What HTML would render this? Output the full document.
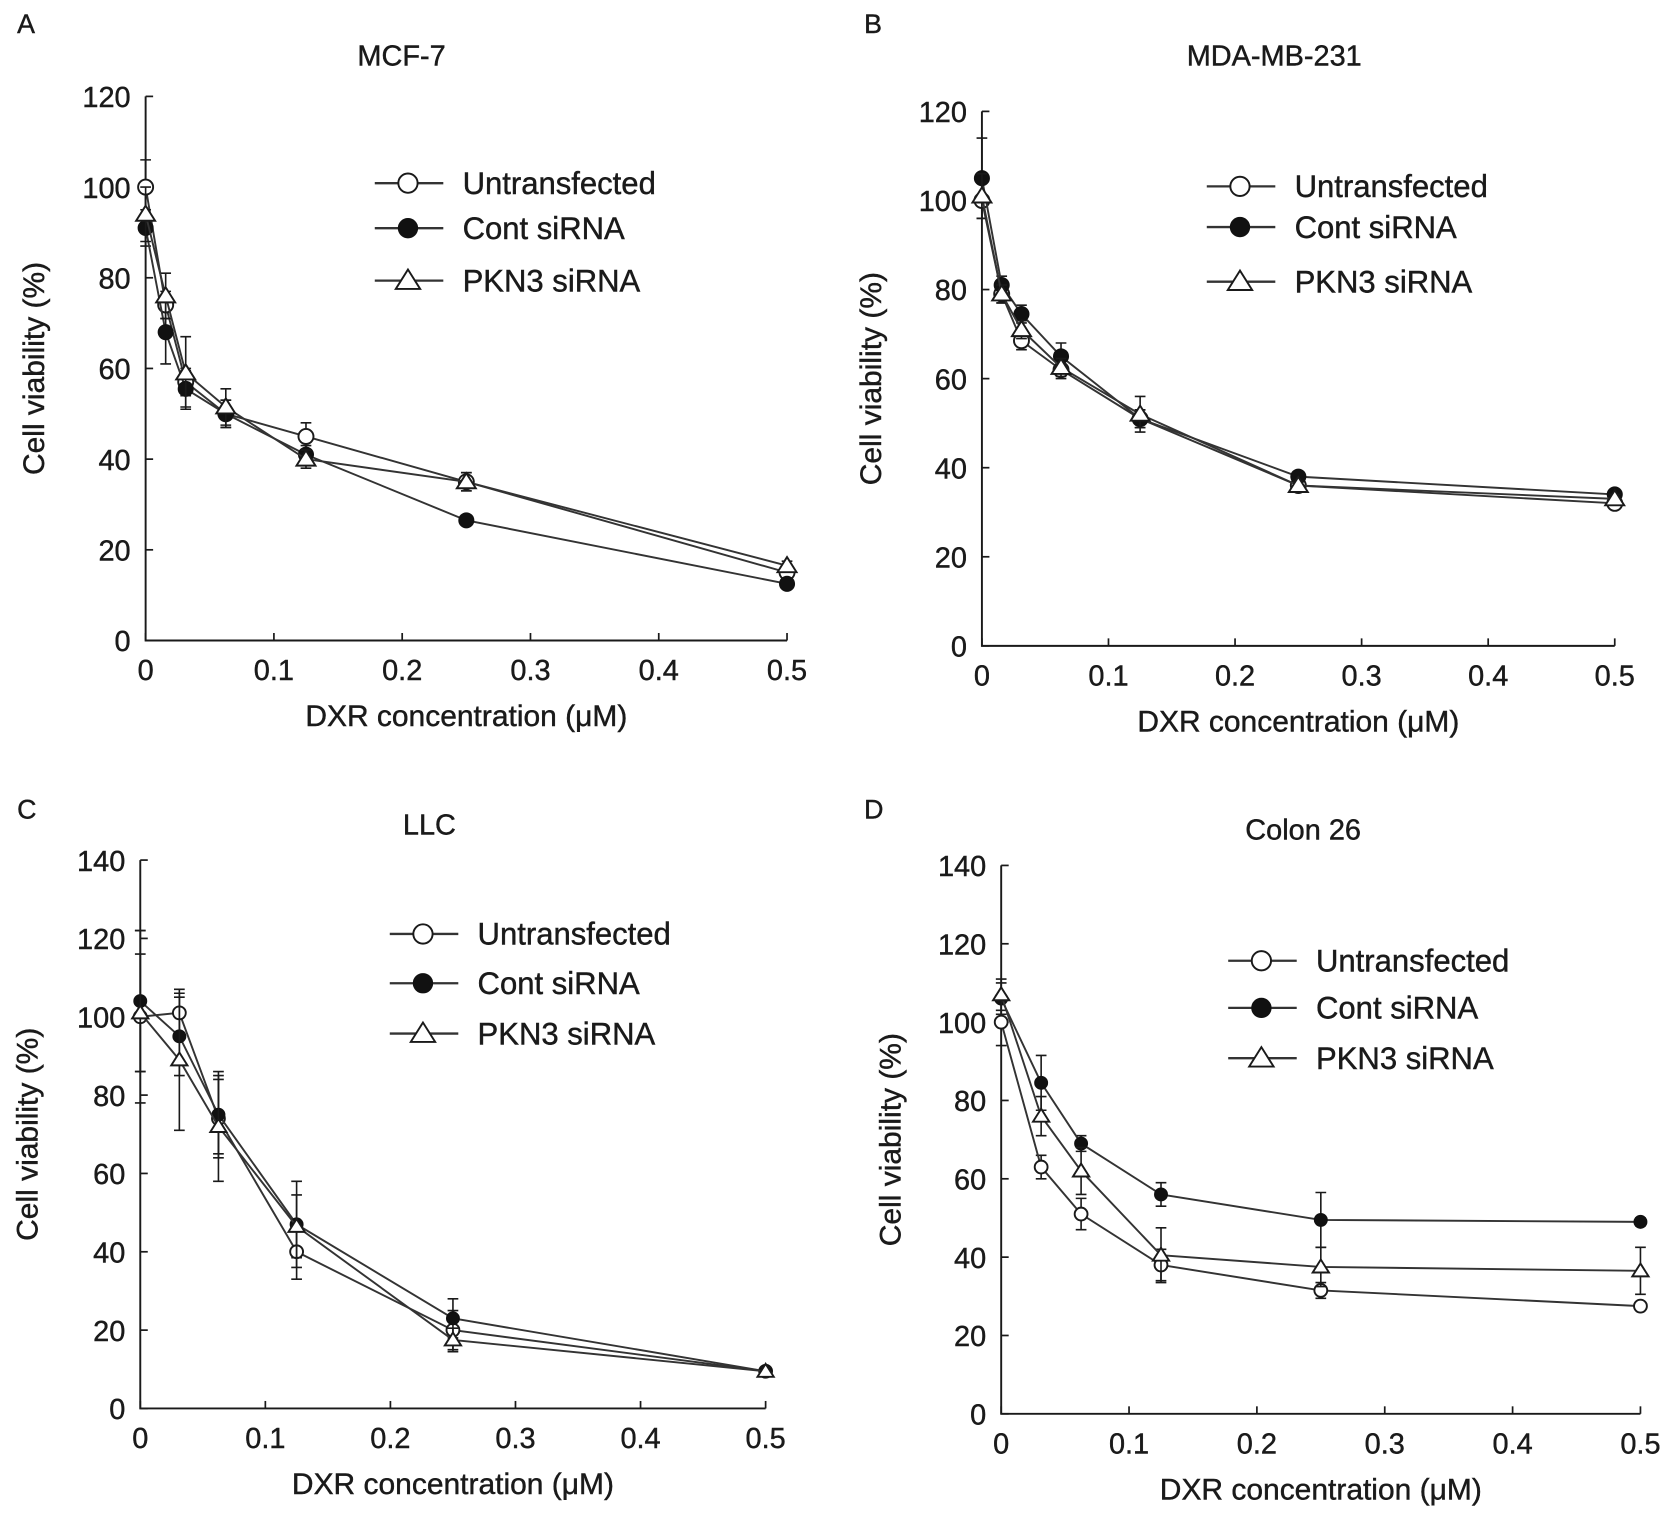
<!DOCTYPE html>
<html><head><meta charset="utf-8"><style>
html,body{margin:0;padding:0;background:#fff;}
svg{display:block;font-family:"Liberation Sans",Arial,sans-serif;}
</style></head><body>
<svg id="fig" width="1679" height="1522" viewBox="0 0 1568 1421" preserveAspectRatio="none" xmlns="http://www.w3.org/2000/svg"></svg>
<script>
// ---- data ----
const xA = [0, 0.015625, 0.03125, 0.0625, 0.125, 0.25, 0.5];
const aUntr = [100, 74, 57, 50, 45, 35, 15];
const aCont = [91, 68, 55.5, 50, 41, 26.5, 12.5];
const aPkn3 = [94, 76, 59, 51.5, 40, 35, 16.5];
const aErrU = [6, 3, 3, 3, 3, 2, 1];
const aErrC = [4, 7, 4, 3, 2, 1, 1];
const aErrP = [6, 5, 8, 4, 2, 2, 1];

const xB = [0, 0.015625, 0.03125, 0.0625, 0.125, 0.25, 0.5];
const bUntr = [100, 79, 68.5, 62, 51, 36, 32];
const bCont = [105, 81, 74.5, 65, 51, 38, 34];
const bPkn3 = [101, 79, 71, 62.5, 52, 36, 33];
const bErrU = [4, 2, 2, 2, 2, 1, 1];
const bErrC = [9, 2, 2, 3, 2, 1, 1];
const bErrP = [5, 2, 2, 2, 4, 1, 1];

const xC = [0, 0.03125, 0.0625, 0.125, 0.25, 0.5];
const cUntr = [100, 101, 74, 40, 20, 9.5];
const cCont = [104, 95, 75, 47, 23, 9.5];
const cPkn3 = [101, 89, 72, 46.5, 17.5, 9.5];
const cErrU = [22, 5, 10, 7, 5, 1];
const cErrC = [18, 10, 10, 11, 5, 1];
const cErrP = [15, 18, 14, 8, 3, 1];

const xD = [0, 0.03125, 0.0625, 0.125, 0.25, 0.5];
const dUntr = [100, 63, 51, 38, 31.5, 27.5];
const dCont = [106, 84.5, 69, 56, 49.5, 49];
const dPkn3 = [107, 76, 62, 40.5, 37.5, 36.5];
const dErrU = [6, 3, 4, 4, 2, 1];
const dErrC = [4, 7, 2, 3, 7, 1];
const dErrP = [4, 5, 6, 7, 5, 6];

const xTicks = [0, 0.1, 0.2, 0.3, 0.4, 0.5];
const xTickLabels = ["0", "0.1", "0.2", "0.3", "0.4", "0.5"];
const yTicks120 = [0, 20, 40, 60, 80, 100, 120];
const yTicks140 = [0, 20, 40, 60, 80, 100, 120, 140];
const seriesNames = ["Untransfected", "Cont siRNA", "PKN3 siRNA"];

const NS = "http://www.w3.org/2000/svg";
const svg = document.getElementById("fig");
function mk(tag, attrs, parent, text) {
  const e = document.createElementNS(NS, tag);
  for (const k in attrs) e.setAttribute(k, attrs[k]);
  if (text !== undefined) e.textContent = text;
  (parent || svg).appendChild(e);
  return e;
}
const C = "#1a1a1a";
const TS = {fill: C, stroke: C, "stroke-width": 0.4};

function marker(g, kind, x, y, s) {
  if (kind === 0) {
    const m = mk("circle", {cx: x, cy: y, r: s, fill: "#fff", stroke: C, "stroke-width": 1.8}, g);
    
    
  } else if (kind === 1) {
    const m = mk("circle", {cx: x, cy: y, r: s, fill: "#111", stroke: "#111", "stroke-width": 1}, g);
    
    
  } else {
    const h = s * 1.15;
    const m = mk("polygon", {points: `${x},${y - h} ${x - h * 1.1},${y + h * 0.75} ${x + h * 1.1},${y + h * 0.75}`, fill: "#fff", stroke: C, "stroke-width": 1.8}, g);
    
    
  }
}
function txt(g, attrs, s) { return mk("text", Object.assign({}, TS, attrs), g, s); }

function panel(p) {
  const g = mk("g", {});
  
  
  const yMax = p.yTicks[p.yTicks.length - 1];
  const sx = v => p.x0 + (v / 0.5) * (p.x1 - p.x0);
  const sy = v => p.y0 - (v / yMax) * (p.y0 - p.yTop);
  const lbl = txt(g, {x: p.lx, y: p.ly, "font-size": 25}, p.letter);
  
  
  const t = txt(g, {x: p.tx, y: p.ty, "font-size": 27, "text-anchor": "middle"}, p.title);
  
  
  const ax = mk("path", {d: `M${p.x0},${p.yTop}V${p.y0}H${p.x1}`, stroke: C, "stroke-width": 1.8, fill: "none"}, g);
  
  
  p.yTicks.forEach(v => {
    mk("line", {x1: p.x0, x2: p.x0 + 7, y1: sy(v), y2: sy(v), stroke: C, "stroke-width": 1.6}, g);
    const tl = txt(g, {x: p.x0 - 14, y: sy(v) + 10, "font-size": 27, "text-anchor": "end"}, String(v));
    
    
  });
  xTicks.forEach((v, i) => {
    mk("line", {x1: sx(v), x2: sx(v), y1: p.y0, y2: p.y0 - 7, stroke: C, "stroke-width": 1.6}, g);
    const tl = txt(g, {x: sx(v), y: p.y0 + 37, "font-size": 27, "text-anchor": "middle"}, xTickLabels[i]);
    
    
  });
  const xt = txt(g, {x: (p.x0 + p.x1) / 2, y: p.y0 + 80, "font-size": 28, "text-anchor": "middle"}, "DXR concentration (\u03bcM)");
  
  
  const ycx = p.ytx, ycy = (p.y0 + p.yTop) / 2;
  const yt = txt(g, {x: ycx, y: ycy, "font-size": 28, "text-anchor": "middle", transform: `rotate(-90 ${ycx} ${ycy})`}, "Cell viability (%)");
  
  
  p.series.forEach((s, k) => {
    const sg = mk("g", {}, g);
    
    
    s.vals.forEach((v, i) => {
      const x = sx(p.xs[i]), e = s.err[i];
      mk("path", {d: `M${x},${sy(v - e)}V${sy(v + e)}M${x - 5},${sy(v + e)}h10M${x - 5},${sy(v - e)}h10`, stroke: C, "stroke-width": 1.5, fill: "none"}, sg);
    });
    const pts = s.vals.map((v, i) => sx(p.xs[i]) + "," + sy(v)).join(" ");
    const ln = mk("polyline", {points: pts, fill: "none", stroke: "#333", "stroke-width": 1.8}, sg);
    
    
    s.vals.forEach((v, i) => marker(sg, k, sx(p.xs[i]), sy(v), p.ms));
  });
  const lg = mk("g", {}, g);
  
  
  p.legY.forEach((y, k) => {
    const le = mk("g", {}, lg);
    
    
    mk("line", {x1: p.legX, x2: p.legX + 64, y1: y, y2: y, stroke: "#333", "stroke-width": 2.2}, le);
    marker(le, k, p.legX + 31, y, 9);
    txt(le, {x: p.legX + 82, y: y + 10, "font-size": 29}, seriesNames[k]);
  });
}

panel({name: "panel-a-mcf7", letter: "A", lx: 16, ly: 31, title: "MCF-7", tx: 375, ty: 61,
  x0: 136, x1: 735, y0: 598, yTop: 90, yTicks: yTicks120, ytx: 41, xs: xA, ms: 7,
  series: [{vals: aUntr, err: aErrU}, {vals: aCont, err: aErrC}, {vals: aPkn3, err: aErrP}],
  legX: 350, legY: [171, 213, 262]});
panel({name: "panel-b-mda-mb-231", letter: "B", lx: 807, ly: 31, title: "MDA-MB-231", tx: 1190, ty: 61,
  x0: 917, x1: 1508, y0: 603, yTop: 104, yTicks: yTicks120, ytx: 823, xs: xB, ms: 7,
  series: [{vals: bUntr, err: bErrU}, {vals: bCont, err: bErrC}, {vals: bPkn3, err: bErrP}],
  legX: 1127, legY: [174, 212, 263]});
panel({name: "panel-c-llc", letter: "C", lx: 16, ly: 764, title: "LLC", tx: 401, ty: 779,
  x0: 131, x1: 715, y0: 1315, yTop: 803, yTicks: yTicks140, ytx: 35, xs: xC, ms: 6,
  series: [{vals: cUntr, err: cErrU}, {vals: cCont, err: cErrC}, {vals: cPkn3, err: cErrP}],
  legX: 364, legY: [872, 918, 965]});
panel({name: "panel-d-colon26", letter: "D", lx: 807, ly: 764, title: "Colon 26", tx: 1217, ty: 784,
  x0: 935, x1: 1532, y0: 1320, yTop: 808, yTicks: yTicks140, ytx: 841, xs: xD, ms: 6,
  series: [{vals: dUntr, err: dErrU}, {vals: dCont, err: dErrC}, {vals: dPkn3, err: dErrP}],
  legX: 1147, legY: [897, 941, 988]});
</script>
</body></html>
